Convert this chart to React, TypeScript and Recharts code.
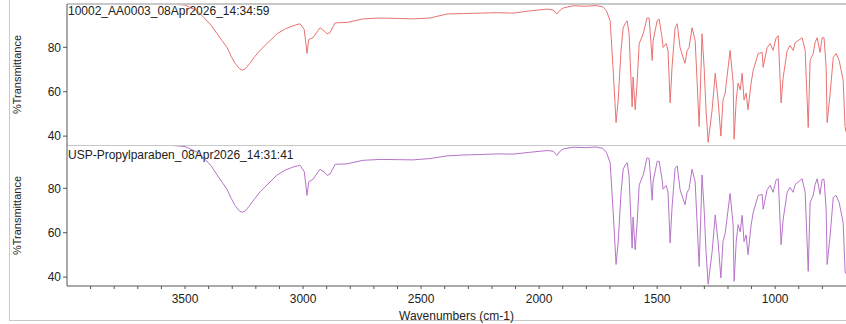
import React from "react";
import { LineChart, Line, XAxis, YAxis, ReferenceLine } from "recharts";

// wavenumbers (cm-1), descending
const wavenumbers = [
  4000, 3900, 3800, 3700, 3600, 3500, 3450, 3420, 3390, 3364, 3340, 3322, 3305, 3288, 3270, 3258,
  3245, 3225, 3205, 3182, 3160, 3140, 3110, 3075, 3042, 3013, 2995, 2983, 2976, 2958, 2940, 2928,
  2912, 2898, 2886, 2864, 2814, 2746, 2674, 2600, 2534, 2462, 2390, 2320, 2250, 2180, 2110, 2040,
  1966, 1940, 1925, 1910, 1898, 1856, 1800, 1760, 1730, 1715, 1699, 1687, 1674, 1665, 1653, 1644,
  1636, 1627, 1619, 1606, 1602, 1593, 1585, 1576, 1559, 1543, 1534, 1521, 1517, 1500, 1492, 1479,
  1475, 1462, 1454, 1445, 1437, 1424, 1415, 1403, 1390, 1382, 1373, 1365, 1352, 1339, 1331, 1322,
  1314, 1310, 1301, 1293, 1284, 1267, 1254, 1242, 1230, 1221, 1212, 1191, 1178, 1174, 1165, 1157,
  1148, 1140, 1132, 1123, 1115, 1102, 1093, 1072, 1055, 1051, 1034, 1021, 1009, 996, 987, 975,
  966, 949, 937, 924, 915, 903, 886, 873, 860, 852, 839, 831, 822, 810, 801, 793,
  784, 780, 767, 754, 742, 729, 712, 704, 700,
];

// 10002_AA0003 sample (%T)
const sampleT = [
  100.2, 100.2, 100.1, 100.0, 99.8, 99.0, 96.6, 93.4, 90.0, 86.1, 82.5, 79.9, 76.0, 72.8, 70.4, 69.7,
  70.3, 72.8, 75.8, 78.6, 81.0, 83.0, 86.1, 88.3, 89.7, 90.6, 88.0, 77.2, 83.5, 84.3, 87.0, 88.8,
  87.5, 86.1, 86.6, 91.0, 91.2, 92.8, 93.2, 93.0, 92.8, 93.2, 95.0, 95.2, 95.4, 95.6, 95.4, 96.4,
  97.2, 96.8, 95.0, 96.8, 97.7, 98.7, 98.5, 98.8, 98.2, 96.5, 91.9, 71.0, 46.1, 56.3, 78.6, 88.8,
  90.6, 91.9, 86.1, 53.2, 66.6, 51.9, 63.9, 81.7, 86.1, 93.2, 93.2, 74.1, 83.0, 91.9, 92.8, 84.3,
  79.9, 81.7, 78.6, 55.0, 71.0, 88.8, 90.6, 79.9, 75.4, 72.8, 78.6, 79.9, 88.8, 83.0, 65.2, 44.3,
  71.0, 86.1, 71.0, 51.9, 37.2, 51.9, 68.3, 56.3, 40.0, 56.3, 59.4, 78.6, 63.9, 38.6, 56.3, 63.9,
  60.8, 68.3, 56.3, 59.4, 51.9, 63.9, 69.7, 77.2, 77.7, 71.0, 79.9, 81.7, 78.6, 84.3, 85.2, 55.0,
  66.6, 78.6, 80.8, 78.6, 82.1, 83.0, 84.3, 78.6, 43.9, 74.1, 77.2, 82.1, 84.3, 77.7, 84.3, 84.3,
  71.0, 46.1, 59.4, 75.4, 77.2, 74.1, 65.2, 44.3, 42.0,
];

// USP-Propylparaben reference (%T)
const referenceT = [
  100.2, 100.2, 100.1, 100.0, 99.7, 98.8, 96.4, 93.6, 90.2, 86.0, 82.3, 79.5, 75.6, 72.2, 69.8, 69.2,
  69.8, 72.4, 75.3, 78.4, 80.8, 82.8, 86.0, 88.2, 89.6, 90.4, 87.5, 76.8, 83.0, 84.0, 86.8, 88.6,
  87.4, 85.8, 86.4, 90.8, 91.0, 92.6, 93.0, 92.9, 92.8, 93.4, 94.6, 95.0, 95.2, 95.5, 95.4, 96.2,
  97.0, 96.7, 94.8, 96.8, 97.7, 98.5, 98.3, 98.6, 98.0, 96.2, 91.5, 70.5, 45.7, 55.8, 78.0, 88.5,
  90.4, 91.5, 85.8, 53.0, 67.0, 52.3, 64.2, 81.5, 86.0, 93.7, 93.4, 74.6, 83.3, 92.0, 92.3, 84.0,
  79.6, 81.3, 78.4, 55.4, 71.2, 89.0, 90.1, 79.5, 75.2, 72.6, 78.2, 79.6, 88.6, 82.8, 65.0, 44.8,
  71.2, 86.0, 70.6, 51.5, 36.8, 51.5, 68.0, 56.0, 39.6, 56.0, 59.6, 77.7, 63.5, 38.1, 56.0, 63.6,
  60.4, 67.8, 56.0, 59.0, 50.1, 63.4, 69.2, 76.8, 77.2, 70.6, 79.4, 81.3, 78.2, 83.8, 84.3, 54.6,
  66.2, 78.2, 80.4, 78.2, 81.7, 82.8, 84.3, 78.2, 42.6, 73.6, 76.8, 81.6, 84.3, 77.3, 84.0, 84.0,
  70.6, 45.7, 59.0, 75.9, 76.8, 73.6, 64.6, 42.6, 41.5,
];

const yTicks = [40, 60, 80];
const majorTicks = [3500, 3000, 2500, 2000, 1500, 1000];
const allTicks = [
  3900, 3800, 3700, 3600, 3500, 3400, 3300, 3200, 3100, 3000, 2900, 2800, 2700, 2600, 2500, 2400,
  2300, 2200, 2100, 2000, 1900, 1800, 1700, 1600, 1500, 1400, 1300, 1200, 1100, 1000, 900, 800,
];

const titles = ["10002_AA0003_08Apr2026_14:34:59", "USP-Propylparaben_08Apr2026_14:31:41"];

const data = wavenumbers.map((wn, i) => ({
  wn,
  sample: sampleT[i],
  reference: referenceT[i],
}));

const Y_DOMAIN: [number, number] = [36, 99.5];
const X_DOMAIN: [number, number] = [700, 4000];
const FONT = "'Liberation Sans', Arial, sans-serif";
const AXIS = "#555";
const FRAME = "#c8c8c8";

const XTick = (props: any) => {
  const { x, y, payload } = props;
  if (!majorTicks.includes(payload.value)) return <g />;
  return (
    <text x={x} y={y} dy="0.71em" textAnchor="middle" fontSize={12} fill="#222">
      {payload.value}
    </text>
  );
};

const yLabel = (props: any) => {
  const vb = props.viewBox;
  const cx = vb.x + 11;
  const cy = vb.y + vb.height / 2;
  return (
    <text
      x={cx}
      y={cy}
      transform={`rotate(-90, ${cx}, ${cy})`}
      textAnchor="middle"
      dominantBaseline="middle"
      fontSize={11}
      fill="#222"
    >
      %Transmittance
    </text>
  );
};

function Panel({ dataKey, color, bottom }: { dataKey: string; color: string; bottom?: boolean }) {
  return (
    <LineChart
      width={846}
      height={bottom ? 179 : 145}
      data={data}
      margin={{ top: bottom ? 0 : 4, right: 0, left: 7, bottom: bottom ? 4 : 0 }}
    >
      <XAxis
        dataKey="wn"
        type="number"
        domain={X_DOMAIN}
        reversed
        allowDataOverflow
        hide={!bottom}
        ticks={allTicks}
        interval={0}
        tick={<XTick />}
        tickSize={3}
        tickMargin={5}
        height={34}
        stroke={AXIS}
        label={{
          value: "Wavenumbers (cm-1)",
          position: "insideBottom",
          offset: 0,
          fontSize: 12,
          fill: "#222",
        }}
      />
      <YAxis
        type="number"
        domain={Y_DOMAIN}
        allowDataOverflow
        ticks={yTicks}
        width={60}
        tickSize={4}
        tickMargin={2}
        tick={{ fontSize: 12, fill: "#222" }}
        stroke={AXIS}
        label={{ content: yLabel }}
      />
      <Line
        type="linear"
        dataKey={dataKey}
        stroke={color}
        strokeWidth={1}
        dot={false}
        isAnimationActive={false}
      />
      <ReferenceLine y={Y_DOMAIN[1]} stroke={FRAME} strokeWidth={2} />
    </LineChart>
  );
}

export default function App() {
  return (
    <div
      style={{
        position: "absolute",
        left: 0,
        top: 0,
        width: 846,
        height: 324,
        overflow: "hidden",
        background: "#fff",
        fontFamily: FONT,
      }}
    >
      <div
        style={{
          position: "absolute",
          left: 9,
          top: 0,
          width: 837,
          height: 321,
          borderLeft: `1px solid ${FRAME}`,
          borderBottom: `1px solid ${FRAME}`,
          boxSizing: "border-box",
        }}
      />
      <div style={{ position: "absolute", left: 0, top: 0 }}>
        <Panel dataKey="sample" color="#ea7272" />
        <Panel dataKey="reference" color="#b774c8" bottom />
      </div>
      <div style={{ position: "absolute", left: 68, top: 5, fontSize: 12, lineHeight: "12px", color: "#222" }}>
        {titles[0]}
      </div>
      <div style={{ position: "absolute", left: 68, top: 149, fontSize: 12, lineHeight: "12px", color: "#222" }}>
        {titles[1]}
      </div>
    </div>
  );
}
